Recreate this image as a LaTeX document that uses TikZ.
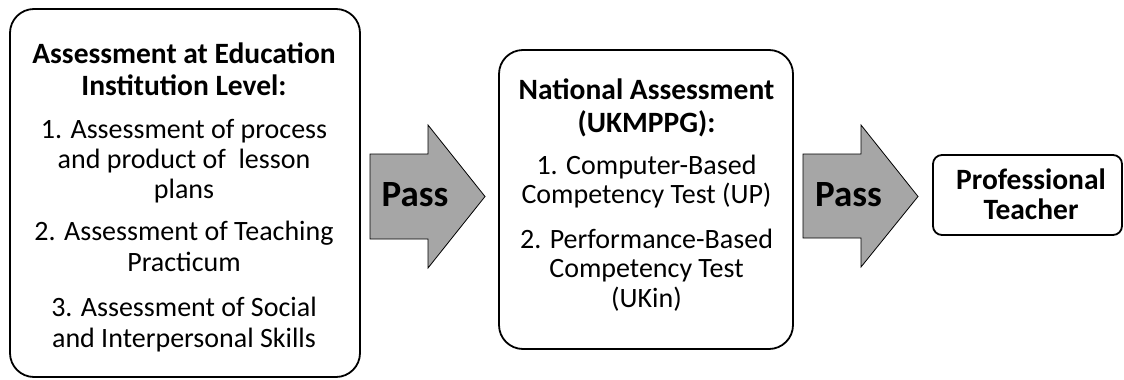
\documentclass[tikz,border=0pt]{standalone}
\usepackage{fontspec}
\setmainfont{Carlito}
\definecolor{arrgray}{RGB}{166,166,166}
\begin{document}
\begin{tikzpicture}[x=1pt,y=-1pt,
  box/.style={draw,line width=1.8pt},
  ln/.style={anchor=base,inner sep=0pt,font=\fontsize{28}{32}\selectfont},
  hdln/.style={anchor=base,inner sep=0pt,font=\fontsize{29.5}{32}\selectfont\bfseries},
  blockarrow/.style={draw=black,line width=0.8pt,fill=arrgray},
  passlabel/.style={anchor=base,inner sep=0pt,font=\fontsize{37}{40}\selectfont\bfseries}]
\useasboundingbox (0,0) rectangle (1124,380);
% box 1
\node[box,rounded corners=24pt,minimum width=350pt,minimum height=368pt] (b1) at (185,193) {};
\node[hdln] (a1) at (184,63) {Assessment at Education};
\node[hdln] (a2) at (184,95) {Institution Level:};
\node[ln] (a3) at (184,138) {1. Assessment of process};
\node[ln] (a4) at (184,168) {and product of \ lesson};
\node[ln] (a5) at (184,198) {plans};
\node[ln] (a6) at (184,240) {2. Assessment of Teaching};
\node[ln] (a7) at (184,271) {Practicum};
\node[ln] (a8) at (184,316) {3. Assessment of Social};
\node[ln] (a9) at (184,347) {and Interpersonal Skills};
% box 2
\node[box,rounded corners=24pt,minimum width=294pt,minimum height=299pt] (b2) at (646,199.5) {};
\node[hdln] (c1) at (646.5,99) {National Assessment};
\node[hdln] (c2) at (646.5,132) {(UKMPPG):};
\node[ln] (c3) at (646.5,174) {1. Computer-Based};
\node[ln] (c4) at (646.5,203) {Competency Test (UP)};
\node[ln] (c5) at (646.5,248) {2. Performance-Based};
\node[ln] (c6) at (646.5,277) {Competency Test};
\node[ln] (c7) at (646.5,307) {(UKin)};
% box 3
\node[box,rounded corners=9pt,minimum width=189pt,minimum height=80pt] (b3) at (1027.5,195) {};
\node[hdln] (d1) at (1031,189) {Professional};
\node[hdln] (d2) at (1031,219) {Teacher};
% block arrows
\draw[blockarrow] (370,154) -- (428,154) -- (428,125) -- (485,196.5) -- (428,268) -- (428,239) -- (370,239) -- cycle;
\node[passlabel] (p1) at (415,206.5) {Pass};
\draw[blockarrow] (803,154) -- (861,154) -- (861,125) -- (918,196.5) -- (861,267) -- (861,238) -- (803,238) -- cycle;
\node[passlabel] (p2) at (848.5,206.5) {Pass};
\end{tikzpicture}
\end{document}
